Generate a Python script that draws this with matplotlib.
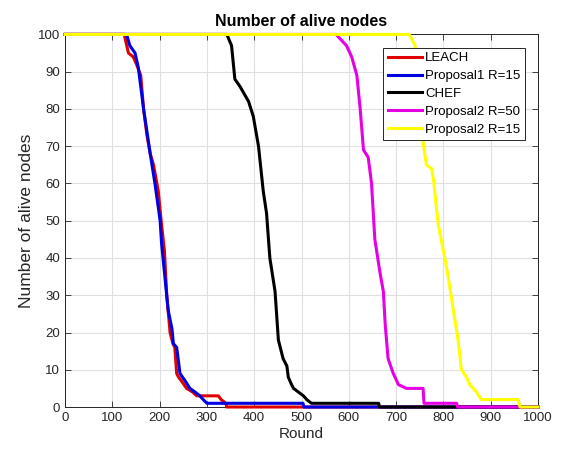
import numpy as np
import matplotlib
matplotlib.use("Agg")
import matplotlib.pyplot as plt

plt.rcParams['font.family'] = ['Liberation Sans', 'DejaVu Sans']

# rounds / alive nodes
leach_r = [0, 125, 134, 144, 151, 160, 166, 173, 180, 187, 197, 204, 210, 215, 222, 228, 232, 236,
           240, 246, 257, 270, 278, 324, 330, 340, 342, 1000]
leach_n = [100, 100, 95, 94, 92, 89, 80, 73, 68, 65, 58, 49, 42, 30, 20, 17, 16, 9,
           8, 7, 5, 4, 3, 3, 2, 1, 0, 0]

prop1_r = [0, 130, 137, 148, 155, 166, 180, 190, 201, 204, 211, 218, 226, 229, 236, 240, 243,
           254, 264, 275, 285, 292, 300, 503, 505, 1000]
prop1_n = [100, 100, 97, 95, 91, 80, 68, 60, 50, 44, 35, 26, 21, 17, 16, 12, 9,
           7, 5, 4, 3, 2, 1, 1, 0, 0]

chef_r = [0, 342, 352, 359, 370, 388, 398, 409, 419, 426, 433, 444, 451, 461, 469, 472, 479,
          483, 504, 511, 521, 663, 665, 1000]
chef_n = [100, 100, 97, 88, 86, 82, 78, 70, 58, 52, 40, 31, 18, 13, 11, 8, 6,
          5, 3, 2, 1, 1, 0, 0]

prop2_50_r = [0, 573, 595, 606, 617, 624, 631, 641, 648, 655, 666, 673, 677, 683, 694, 705,
              722, 757, 759, 828, 830, 1000]
prop2_50_n = [100, 100, 97, 94, 89, 80, 69, 67, 60, 45, 36, 31, 22, 13, 9, 6,
              5, 5, 1, 1, 0, 0]

prop2_15_r = [0, 728, 740, 748, 757, 764, 775, 779, 789, 803, 810, 821, 831, 838, 849, 856,
              870, 880, 958, 962, 1000]
prop2_15_n = [100, 100, 97, 85, 71, 65, 64, 61, 49, 40, 35, 26, 18, 10, 8, 6,
              4, 2, 2, 0, 0]

fig = plt.figure(figsize=(5.61, 4.53), dpi=100)
ax = fig.add_axes([0.116, 0.1015, 0.843, 0.8225])

lw = 2.2
kw = dict(lw=lw, clip_on=False, zorder=3)
ax.plot(leach_r, leach_n, color='#e00000', label='LEACH', **kw)
ax.plot(prop1_r, prop1_n, color='#0000e0', label='Proposal1 R=15', **kw)
ax.plot(chef_r, chef_n, color='black', label='CHEF', **kw)
ax.plot(prop2_50_r, prop2_50_n, color='#e600e6', label='Proposal2 R=50', **kw)
ax.plot(prop2_15_r, prop2_15_n, color='#ffff00', label='Proposal2 R=15', **kw)

ax.set_xlim(0, 1000)
ax.set_ylim(0, 100)
ax.set_xticks(np.arange(0, 1001, 100))
ax.set_yticks(np.arange(0, 101, 10))
ax.grid(True, color='#e0e0e0', lw=0.8)
ax.set_axisbelow(True)
ax.tick_params(direction='in', top=True, right=True, labelsize=9.5, colors='#262626',
               length=4, width=0.6)
for s in ax.spines.values():
    s.set_color('#262626')
    s.set_linewidth(0.7)

ax.set_title('Number of alive nodes', fontsize=11.5, fontweight='bold', pad=6)
ax.set_xlabel('Round', fontsize=11, color='#262626', labelpad=2)
ax.set_ylabel('Number of alive nodes', fontsize=12.5, color='#262626', labelpad=3)

leg = ax.legend(loc='upper right', fontsize=9.5, fancybox=False, framealpha=1,
                edgecolor='#262626', borderaxespad=1.0, handlelength=2.6,
                labelspacing=0.42, handletextpad=0.2, borderpad=0.35)
leg.get_frame().set_linewidth(0.7)
leg.set_zorder(5)

plt.savefig('out.png', dpi=100)
